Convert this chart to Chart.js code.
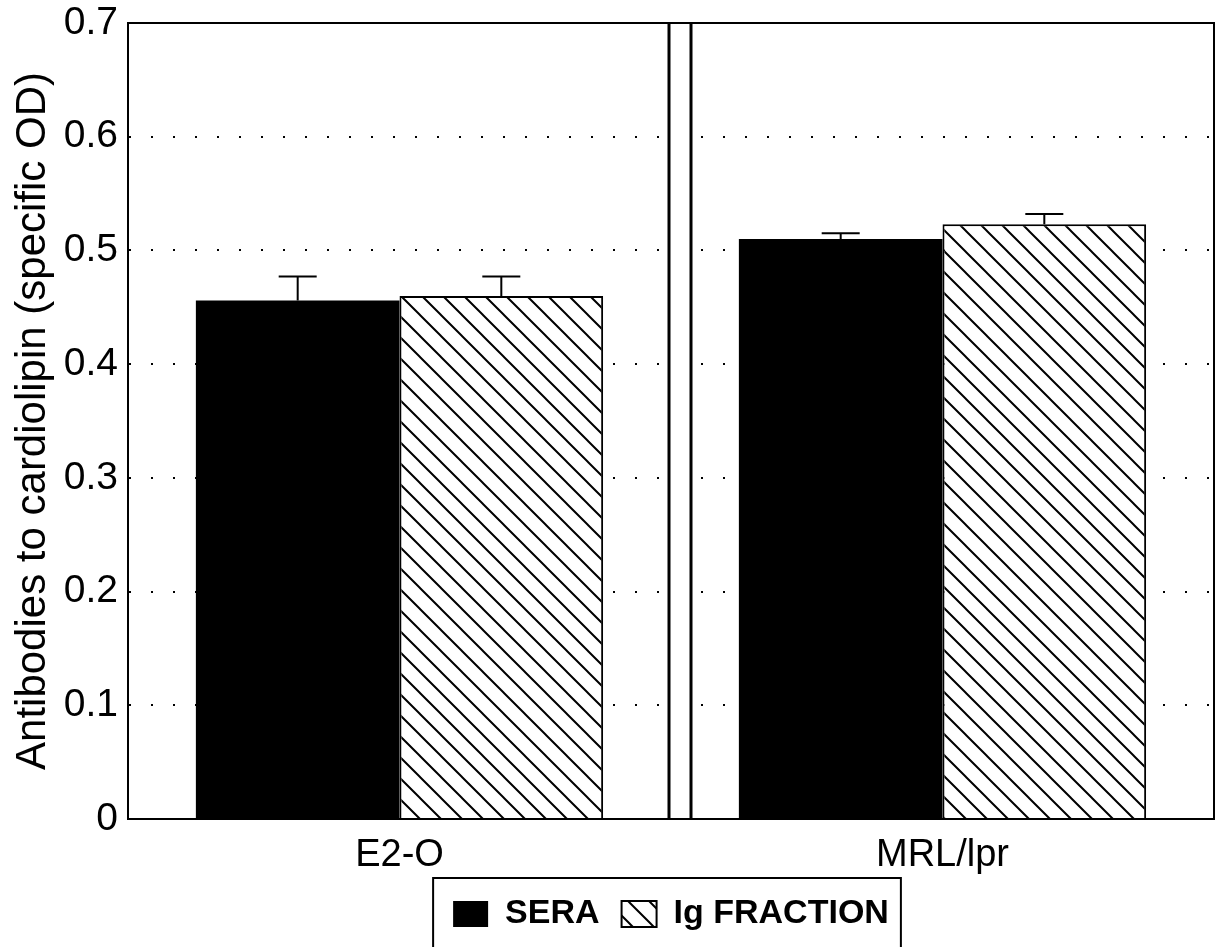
<!DOCTYPE html>
<html>
<head>
<meta charset="utf-8">
<title>Antibodies to cardiolipin</title>
<script src="https://cdn.jsdelivr.net/npm/chart.js@4.4.1/dist/chart.umd.min.js"></script>
<style>
  html, body { margin: 0; padding: 0; background: #fff; }
  #wrap { position: relative; width: 1216px; height: 947px; }
</style>
</head>
<body>
<div id="wrap"><canvas id="odChart"></canvas></div>
<script>
// strains on the x axis
const strains = ['E2-O', 'MRL/lpr'];
// mean specific OD and SEM for each preparation
const seraOD = [0.456, 0.510];
const seraSEM = [0.021, 0.005];
const igOD = [0.460, 0.523];
const igSEM = [0.017, 0.009];
const yTicks = [0, 0.1, 0.2, 0.3, 0.4, 0.5, 0.6, 0.7];

const FONT = "'Liberation Sans', Arial, Helvetica, sans-serif";

// diagonal hatch fill for the Ig fraction bars
function makeHatch() {
    const c = document.createElement('canvas');
    c.width = 21;
    c.height = 21;
    const g = c.getContext('2d');
    g.fillStyle = '#fff';
    g.fillRect(0, 0, 21, 21);
    g.strokeStyle = '#000';
    g.lineWidth = 2;
    g.beginPath();
    g.moveTo(-3, -3); g.lineTo(24, 24);
    g.moveTo(-3, 18); g.lineTo(3, 24);
    g.moveTo(18, -3); g.lineTo(24, 3);
    g.stroke();
    return g.createPattern(c, 'repeat');
}
const hatch = makeHatch();

const errors = [seraSEM, igSEM];

// upward error bars with a cap
const errorBars = {
    id: 'errorBars',
    afterDatasetsDraw(chart) {
        const ctx = chart.ctx;
        const y = chart.scales.y;
        ctx.save();
        ctx.strokeStyle = '#000';
        ctx.lineWidth = 2;
        chart.data.datasets.forEach((ds, i) => {
            chart.getDatasetMeta(i).data.forEach((bar, j) => {
                const top = y.getPixelForValue(ds.data[j] + errors[i][j]);
                const base = y.getPixelForValue(ds.data[j]);
                ctx.beginPath();
                ctx.moveTo(bar.x, base);
                ctx.lineTo(bar.x, top);
                ctx.moveTo(bar.x - 19, top);
                ctx.lineTo(bar.x + 19, top);
                ctx.stroke();
            });
        });
        ctx.restore();
    }
};

// outer frame, the double divider between strains, and the legend box
const frame = {
    id: 'frame',
    afterDraw(chart) {
        const ctx = chart.ctx;
        const a = chart.chartArea;
        const x = chart.scales.x;
        ctx.save();
        ctx.strokeStyle = '#000';
        ctx.lineWidth = 2;
        ctx.strokeRect(a.left, a.top, a.right - a.left, a.bottom - a.top);

        const mid = (x.getPixelForValue(0) + x.getPixelForValue(1)) / 2;
        ctx.fillStyle = '#fff';
        ctx.fillRect(mid - 2, a.top + 1, 22, a.bottom - a.top - 2);
        ctx.lineWidth = 3;
        ctx.beginPath();
        ctx.moveTo(mid - 2, a.top); ctx.lineTo(mid - 2, a.bottom);
        ctx.moveTo(mid + 20, a.top); ctx.lineTo(mid + 20, a.bottom);
        ctx.stroke();

        const boxes = chart.legend.legendHitBoxes;
        if (boxes.length) {
            const left = Math.min(...boxes.map(b => b.left)) - 20;
            const right = Math.max(...boxes.map(b => b.left + b.width)) + 12;
            const top = Math.min(...boxes.map(b => b.top)) - 19;
            ctx.lineWidth = 2;
            ctx.strokeRect(left, top, right - left, chart.height - top + 5);
        }
        ctx.restore();
    }
};

new Chart(document.getElementById('odChart'), {
    type: 'bar',
    data: {
        labels: strains,
        datasets: [{
            label: 'SERA',
            data: seraOD,
            backgroundColor: '#000',
            borderColor: '#000',
            borderWidth: 0
        }, {
            label: 'Ig FRACTION',
            data: igOD,
            backgroundColor: hatch,
            borderColor: '#000',
            borderWidth: 2
        }]
    },
    options: {
        responsive: true,
        maintainAspectRatio: false,
        animation: false,
        layout: { padding: { top: 23, right: 2, left: 0, bottom: 6 } },
        datasets: { bar: { categoryPercentage: 0.75, barPercentage: 1.0 } },
        plugins: {
            tooltip: { enabled: false },
            legend: {
                position: 'bottom',
                fullSize: false,
                labels: {
                    color: '#000',
                    font: { family: FONT, size: 34, weight: 'bold' },
                    boxWidth: 35,
                    boxHeight: 26,
                    padding: 22
                }
            }
        },
        scales: {
            x: {
                grid: { display: false },
                border: { display: true, color: '#000', width: 2 },
                ticks: { color: '#000', font: { family: FONT, size: 38 }, padding: 6 },
                afterFit(scale) { scale.height = 56; }
            },
            y: {
                min: 0,
                max: 0.7,
                afterBuildTicks(scale) { scale.ticks = yTicks.map(v => ({ value: v })); },
                grid: {
                    drawTicks: false,
                    color: ctx => (ctx.tick.value > 0 && ctx.tick.value < 0.7) ? '#000' : 'rgba(0,0,0,0)',
                    lineWidth: 2
                },
                border: { display: true, color: '#000', width: 2, dash: [2, 20] },
                ticks: {
                    color: '#000',
                    font: { family: FONT, size: 39 },
                    padding: 10,
                    callback: v => v === 0 ? '0' : v.toFixed(1)
                },
                title: {
                    display: true,
                    text: 'Antibodies to cardiolipin (specific OD)',
                    color: '#000',
                    font: { family: FONT, size: 42 },
                    padding: { top: 8, bottom: 0 }
                },
                afterFit(scale) {
                    scale.width = 128;
                    scale.paddingTop = 0;
                    scale.paddingBottom = 0;
                }
            }
        }
    },
    plugins: [errorBars, frame]
});
</script>
</body>
</html>
